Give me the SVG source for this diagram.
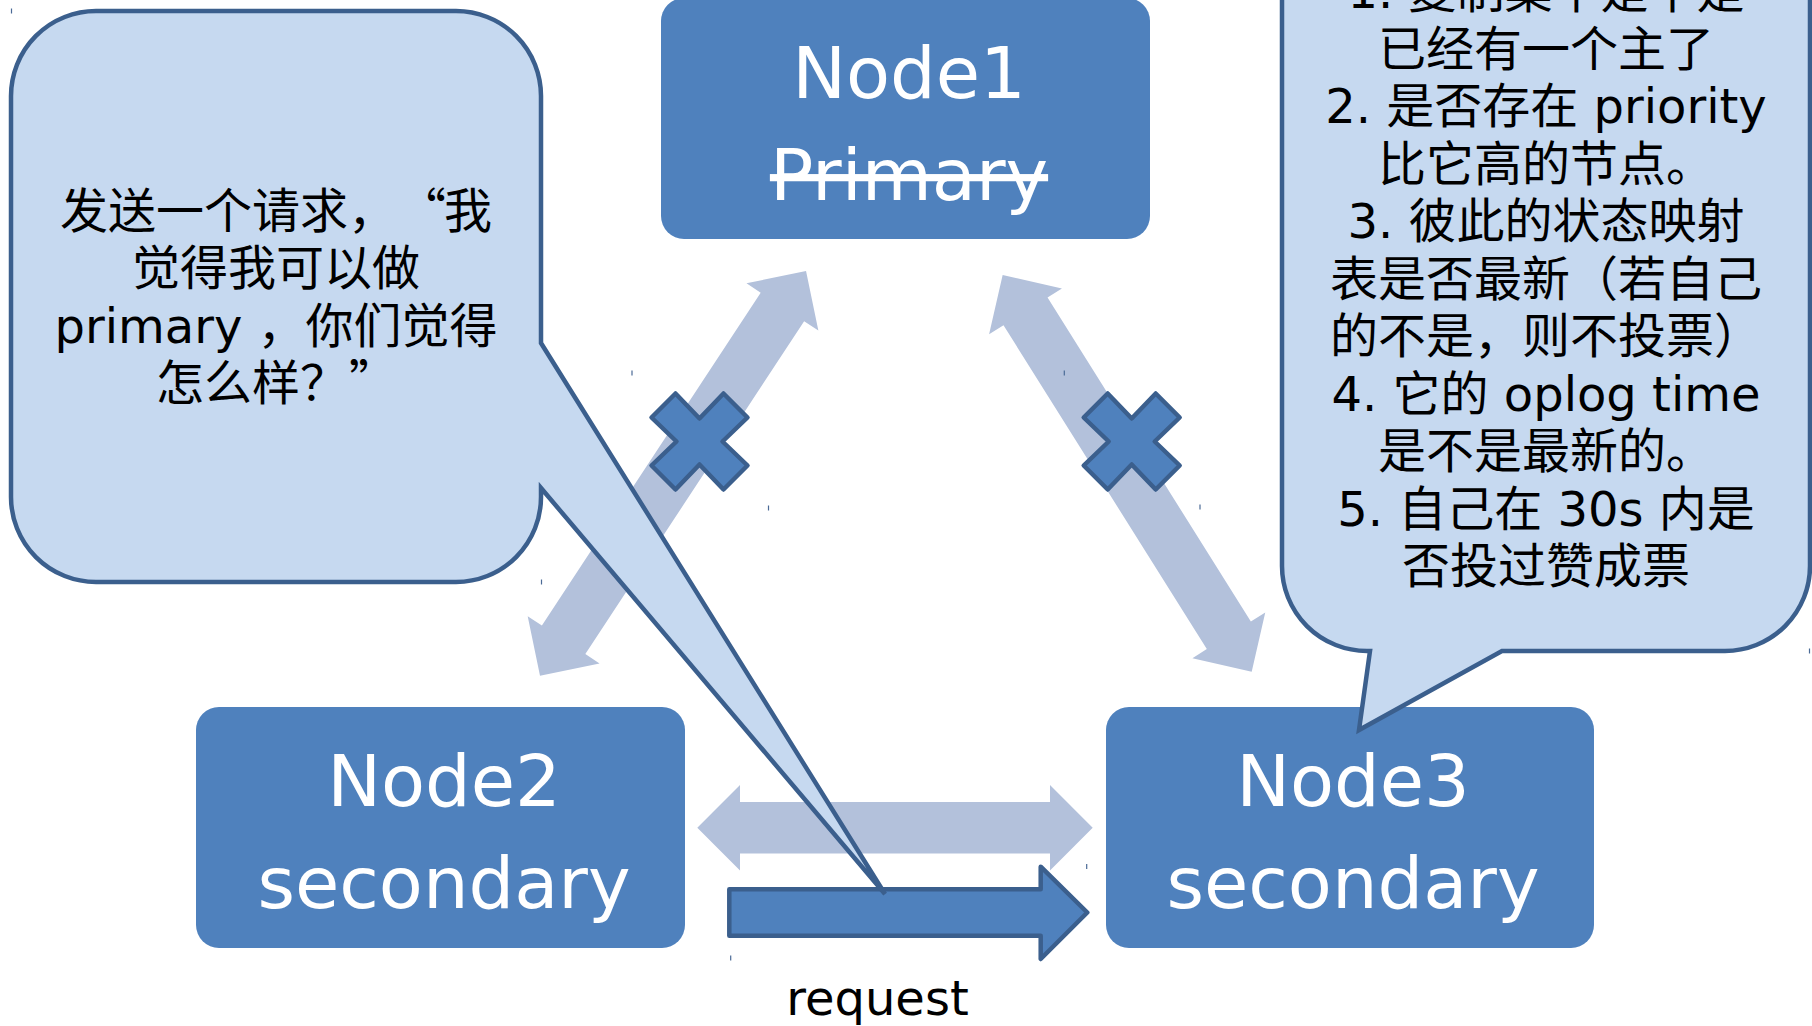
<svg xmlns="http://www.w3.org/2000/svg" width="1812" height="1026" viewBox="0 0 1812 1026">
<style>
.lt{fill:#b3c1db}
.node{fill:#4f81bd}
.ntxt{fill:#ffffff;font-family:"DejaVu Sans","Noto Sans CJK SC",sans-serif;font-size:72px;text-anchor:middle}
.bub{fill:#c6d9f0;stroke:#3b5f8d;stroke-width:4.5;stroke-linejoin:miter}
.btxt{fill:#000000;font-family:"DejaVu Sans","Noto Sans CJK SC",sans-serif;font-size:48px;text-anchor:middle}
.st{text-anchor:start}
.en{text-anchor:end}
.q{font-family:"Noto Sans CJK SC",sans-serif}
.xm{fill:#4f81bd;stroke:#3b5f8d;stroke-width:4.5;stroke-linejoin:round}
.tick{stroke:#4a6a96;stroke-width:1.2}
</style>
<rect width="1812" height="1026" fill="#ffffff"/>
<g id="connectors">
  <polygon class="lt" transform="translate(540,675.7) rotate(-56.68)" points="0,0 43,-43 43,-26 441.3,-26 441.3,-43 484.3,0 441.3,43 441.3,26 43,26 43,43"/>
  <polygon class="lt" transform="translate(1251.7,671.7) rotate(-122.12)" points="0,0 43,-43 43,-26 425.4,-26 425.4,-43 468.4,0 425.4,43 425.4,26 43,26 43,43"/>
  <polygon class="lt" points="697.3,827.8 740,785 740,802 1050,802 1050,785 1092.7,827.8 1050,870.6 1050,853.6 740,853.6 740,870.6"/>
  <polygon id="x1" class="xm" transform="translate(699.5,441.5)" points="-24,-48 0,-23 24,-48 48,-24 23,0 48,24 24,48 0,23 -24,48 -48,24 -23,0 -48,-24"/>
  <polygon id="x2" class="xm" transform="translate(1131.7,441.5)" points="-24,-48 0,-23 24,-48 48,-24 23,0 48,24 24,48 0,23 -24,48 -48,24 -23,0 -48,-24"/>
</g>
<g id="node1">
  <rect class="node" x="661" y="-2" width="489" height="241" rx="23"/>
  <text class="ntxt" x="909" y="98">Node1</text>
  <text class="ntxt" x="909" y="200" text-decoration="line-through">Primary</text>
</g>
<g id="node2">
  <rect class="node" x="196" y="707" width="489" height="241" rx="23"/>
  <text class="ntxt" x="444" y="806">Node2</text>
  <text class="ntxt" x="444" y="908">secondary</text>
</g>
<g id="node3">
  <rect class="node" x="1106" y="707" width="488" height="241" rx="23"/>
  <text class="ntxt" x="1353" y="806">Node3</text>
  <text class="ntxt" x="1353" y="908">secondary</text>
</g>
<g id="request">
  <polygon points="729.3,889.3 1040.7,889.3 1040.7,866.7 1087.3,912.5 1040.7,959 1040.7,935.7 729.3,935.7" fill="#4f81bd" stroke="#3b5f8d" stroke-width="4.5" stroke-linejoin="round"/>
  <text class="btxt" x="877.5" y="1015">request</text>
</g>
<g id="bubble-left">
  <path class="bub" d="M96,11 H456 A85,85 0 0 1 541,96 V343 L885,894 L541,488 V497 A85,85 0 0 1 456,582 H96 A85,85 0 0 1 11,497 V96 A85,85 0 0 1 96,11 Z"/>
  <text class="btxt st" x="60" y="227.5">发送一个请求，</text>
  <text class="btxt en q" x="446" y="227.5">“</text>
  <text class="btxt st" x="444" y="227.5">我</text>
  <text class="btxt" x="276" y="285">觉得我可以做</text>
  <text class="btxt" x="276" y="342.5">primary ，你们觉得</text>
  <text class="btxt st" x="156" y="400">怎么样？</text>
  <text class="btxt st q" x="349" y="400">”</text>
</g>
<g id="bubble-right">
  <path class="bub" d="M1367,-100 H1725 A85,85 0 0 1 1810,-15 V566 A85,85 0 0 1 1725,651 H1502 L1359,730 L1370,651 H1367 A85,85 0 0 1 1282,566 V-15 A85,85 0 0 1 1367,-100 Z"/>
  <text class="btxt" x="1546" y="8">1. 复制集中是不是</text>
  <text class="btxt" x="1546" y="65.5">已经有一个主了</text>
  <text class="btxt" x="1546" y="123">2. 是否存在 priority</text>
  <text class="btxt" x="1546" y="180.5">比它高的节点。</text>
  <text class="btxt" x="1546" y="238">3. 彼此的状态映射</text>
  <text class="btxt" x="1546" y="295.5">表是否最新（若自己</text>
  <text class="btxt" x="1546" y="353">的不是，则不投票）</text>
  <text class="btxt" x="1546" y="410.5">4. 它的 oplog time</text>
  <text class="btxt" x="1546" y="468">是不是最新的。</text>
  <text class="btxt" x="1546" y="525.5">5. 自己在 30s 内是</text>
  <text class="btxt" x="1546" y="583">否投过赞成票</text>
</g>
<g id="ticks">
  <line class="tick" x1="11.5" y1="8.5" x2="11.5" y2="13.5"/>
  <line class="tick" x1="541.5" y1="579.5" x2="541.5" y2="584.5"/>
  <line class="tick" x1="632" y1="370.5" x2="632" y2="375.5"/>
  <line class="tick" x1="768.5" y1="505.5" x2="768.5" y2="510.5"/>
  <line class="tick" x1="1064.3" y1="370.5" x2="1064.3" y2="375.5"/>
  <line class="tick" x1="1200" y1="504.5" x2="1200" y2="509.5"/>
  <line class="tick" x1="730.7" y1="955.5" x2="730.7" y2="960.5"/>
  <line class="tick" x1="1086.7" y1="864" x2="1086.7" y2="869"/>
  <line class="tick" x1="1809.5" y1="648.5" x2="1809.5" y2="653.5"/>
</g>
</svg>
